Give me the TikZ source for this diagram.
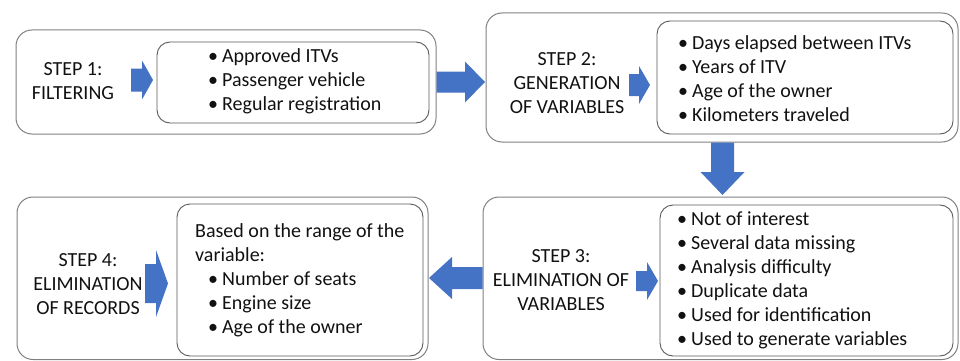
\documentclass[tikz,border=0pt]{standalone}
\usepackage{fontspec}
\setmainfont{Carlito}
\definecolor{arrowblue}{HTML}{4472C4}
\definecolor{linegray}{HTML}{808080}
\definecolor{innergray}{HTML}{595959}
\definecolor{txt}{HTML}{111111}
\newcommand\blt{\textbullet\hspace{4pt}}
\begin{document}
\begin{tikzpicture}[x=1pt,y=-1pt,
  outerbox/.style={draw=linegray, line width=1pt, rounded corners=16pt, inner sep=0pt},
  innerbox/.style={draw=innergray, line width=0.9pt, rounded corners=13pt, inner sep=0pt},
  steptext/.style={align=center, font=\fontsize{20}{24}\selectfont, text=txt, inner sep=0pt},
  listtext/.style={align=left, anchor=west, font=\fontsize{20}{24}\selectfont, text=txt, inner sep=0pt},
  blockarrow/.style={fill=arrowblue, draw=none}]
\useasboundingbox (0,0) rectangle (960,361);
% outer boxes
\node[outerbox, minimum width=420pt, minimum height=104pt] (o1) at (226,82) {};
\node[outerbox, minimum width=472pt, minimum height=129pt] (o2) at (722,77.5) {};
\node[outerbox, minimum width=475pt, minimum height=162.5pt] (o3) at (720.5,278.25) {};
\node[outerbox, minimum width=411pt, minimum height=162.5pt] (o4) at (222.5,278.25) {};
% inner boxes
\node[innerbox, minimum width=272pt, minimum height=81pt] (i1) at (293,82.5) {};
\node[innerbox, minimum width=296pt, minimum height=113pt] (i2) at (805,77.5) {};
\node[innerbox, minimum width=293pt, minimum height=151pt] (i3) at (806.5,280.5) {};
\node[innerbox, minimum width=246pt, minimum height=152pt] (i4) at (300,280) {};
% step labels
\node[steptext] (s1) at (73,81) {STEP 1:\\FILTERING};
\node[steptext] (s2) at (567,83) {STEP 2:\\GENERATION\\OF VARIABLES};
\node[steptext] (s3) at (561,280) {STEP 3:\\ELIMINATION OF\\VARIABLES};
\node[steptext] (s4) at (88,284) {STEP 4:\\ELIMINATION\\OF RECORDS};
% lists
\node[listtext] (l1) at (208,81) {\blt Approved ITVs\\\blt Passenger vehicle\\\blt Regular registration};
\node[listtext] (l2) at (678,79) {\blt Days elapsed between ITVs\\\blt Years of ITV\\\blt Age of the owner\\\blt Kilometers traveled};
\node[listtext] (l3) at (677,280) {\blt Not of interest\\\blt Several data missing\\\blt Analysis difficulty\\\blt Duplicate data\\\blt Used for identification\\\blt Used to generate variables};
\node[listtext] (l4) at (195,280) {Based on the range of the\\variable:\\\hspace{13pt}\blt Number of seats\\\hspace{13pt}\blt Engine size\\\hspace{13pt}\blt Age of the owner};
% small arrows
\fill[blockarrow] (131,68.5)--(142,68.5)--(142,60.5)--(153,80)--(142,99.5)--(142,91.5)--(131,91.5)--cycle;
\fill[blockarrow] (629,74)--(639,74)--(639,66)--(650,85)--(639,104)--(639,96)--(629,96)--cycle;
\fill[blockarrow] (636,271)--(647,271)--(647,262)--(658,281)--(647,300)--(647,291)--(636,291)--cycle;
\fill[blockarrow] (145,264)--(156,264)--(156,250)--(168,283.5)--(156,317)--(156,303)--(145,303)--cycle;
% big arrows between steps
\fill[blockarrow] (o1.east |- 0,71.5)--(465,71.5)--(465,61.5)--(485,82)--(465,102.5)--(465,92.5)--(o1.east |- 0,92.5)--cycle;
\fill[blockarrow] (o2.south -| 711,0)--(711,172)--(700.5,172)--(722.5,195)--(744.5,172)--(734,172)--(o2.south -| 734,0)--cycle;
\fill[blockarrow] (o3.west |- 0,267)--(452,267)--(452,257)--(429,278)--(452,299)--(452,289)--(o3.west |- 0,289)--cycle;
\end{tikzpicture}
\end{document}
